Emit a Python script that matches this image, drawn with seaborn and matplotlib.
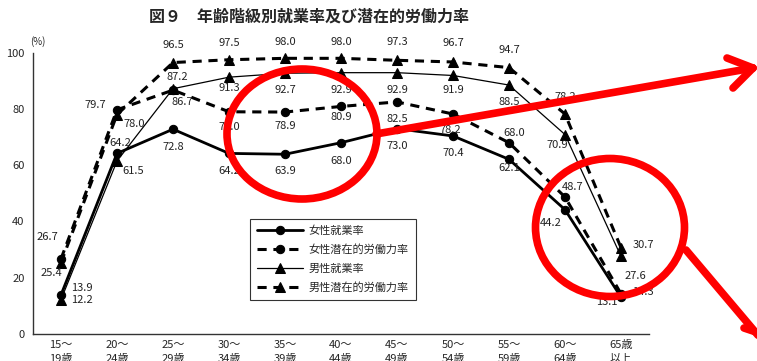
import numpy as np
import pandas as pd
import seaborn as sns
import matplotlib.pyplot as plt
from matplotlib.patches import Ellipse
from matplotlib.lines import Line2D

# ---- data ----
age_groups = ["15～\n19歳", "20～\n24歳", "25～\n29歳", "30～\n34歳", "35～\n39歳",
              "40～\n44歳", "45～\n49歳", "50～\n54歳", "55～\n59歳", "60～\n64歳",
              "65歳\n以上"]
female_emp = [13.9, 64.2, 72.8, 64.2, 63.9, 68.0, 73.0, 70.4, 62.1, 44.2, 13.1]
female_pot = [26.7, 79.7, 86.7, 79.0, 78.9, 80.9, 82.5, 78.2, 68.0, 48.7, 14.3]
male_emp = [12.2, 61.5, 87.2, 91.3, 92.7, 92.9, 92.9, 91.9, 88.5, 70.9, 27.6]
male_pot = [25.4, 78.0, 96.5, 97.5, 98.0, 98.0, 97.3, 96.7, 94.7, 78.2, 30.7]
series_names = ["女性就業率", "女性潜在的労働力率", "男性就業率", "男性潜在的労働力率"]
title = "図９　年齢階級別就業率及び潜在的労働力率"

# label offsets in pixels (dx, dy downwards)
off_female_emp = [(21, -7), (3, -10), (0, 18), (0, 18), (0, 17), (0, 18),
                  (0, 17), (0, 17), (0, 9), (-14, 13), (-14, 5)]
off_female_pot = [(-14, -22), (-22, -5), (9, 12), (0, 15), (0, 14), (0, 11),
                  (0, 17), (-3, 16), (5, -10), (8, -10), (22, -2)]
off_male_emp = [(21, 0), (16, 10), (4, -12), (0, 11), (0, 17), (0, 17),
                (0, 17), (0, 15), (0, 17), (-8, 10), (14, 20)]
off_male_pot = [(-10, 10), (17, 9), (0, -18), (0, -17), (0, -16), (0, -16),
                (0, -18), (0, -19), (0, -18), (0, -17), (22, -3)]

rows = []
for name, vals in zip(series_names, [female_emp, female_pot, male_emp, male_pot]):
    for i, v in enumerate(vals):
        rows.append([name, i, v])
df = pd.DataFrame(rows, columns=["series", "pos", "value"])

sns.set_style("white")
plt.rcParams['font.family'] = ['Noto Sans CJK JP', 'DejaVu Sans']

W, H = 757, 361
fig = plt.figure(figsize=(W / 100, H / 100), dpi=100)
ax = fig.add_axes([33 / W, 1 - 334 / H, 616 / W, 281.3 / H])

dash = (0, (3, 2.2))
styles = {
    "女性就業率": dict(marker="o", linestyle="-", linewidth=2.0, markersize=6),
    "女性潜在的労働力率": dict(marker="o", linestyle=dash, linewidth=2.2, markersize=6),
    "男性就業率": dict(marker="^", linestyle="-", linewidth=0.9, markersize=6.5),
    "男性潜在的労働力率": dict(marker="^", linestyle=dash, linewidth=2.2, markersize=6.5),
}
for name in series_names:
    sns.lineplot(data=df[df["series"] == name], x="pos", y="value", color="black",
                 markeredgecolor="black", label=name, ax=ax, **styles[name])

for vals, offs in [(female_emp, off_female_emp), (female_pot, off_female_pot),
                   (male_emp, off_male_emp), (male_pot, off_male_pot)]:
    for i, (v, (dx, dy)) in enumerate(zip(vals, offs)):
        ax.annotate(f"{v:.1f}", (i, v), xytext=(dx, -dy), textcoords="offset pixels",
                    ha="center", va="center", fontsize=8, color="#222222")

ax.set_xlim(-0.5, len(age_groups) - 0.5)
ax.set_ylim(0, 100)
ax.set_yticks(np.arange(0, 101, 20))
ax.set_xticks(range(len(age_groups)))
ax.set_xticklabels(age_groups, fontsize=8, linespacing=1.5)
ax.set_xticks(np.arange(0.5, len(age_groups), 1), minor=True)
ax.tick_params(axis="x", which="major", length=0, pad=4)
ax.tick_params(axis="x", which="minor", direction="in", length=4, width=0.8)
ax.tick_params(axis="y", direction="in", length=4, width=0.8, labelsize=8, pad=6)
ax.set_xlabel("")
ax.set_ylabel("")
for s in ["top", "right"]:
    ax.spines[s].set_visible(False)
for s in ["left", "bottom"]:
    ax.spines[s].set_color("#333333")
    ax.spines[s].set_linewidth(1.0)

leg = ax.legend(loc="upper left", bbox_to_anchor=(250 / W, 1 - 219 / H),
                bbox_transform=fig.transFigure, borderaxespad=0, fontsize=8,
                handlelength=4.2, labelspacing=0.75, frameon=True, fancybox=False,
                borderpad=0.6, handletextpad=0.5)
leg.get_frame().set_edgecolor("black")
leg.get_frame().set_linewidth(0.8)

fig.text(309 / W, 1 - 17 / H, title, ha="center", va="center", fontsize=11.5,
         fontweight="bold")
fig.text(38 / W, 1 - 42 / H, "(%)", ha="center", va="center", fontsize=7)


# red hand-drawn highlights
def fx(x):
    return x / W


def fy(y):
    return 1 - y / H


red = "#ff0000"
fig.add_artist(Ellipse((fx(302), fy(134)), 150 / W, 130 / H, transform=fig.transFigure,
                       fill=False, ec=red, lw=5.5, zorder=20))
fig.add_artist(Ellipse((fx(610), fy(227.5)), 149 / W, 138 / H, transform=fig.transFigure,
                       fill=False, ec=red, lw=5.5, zorder=20))
for (x1, y1), (x2, y2) in [((376, 134), (753, 68)), ((727, 58), (753, 68)),
                           ((733, 88), (753, 68)), ((686, 250), (762, 340)),
                           ((744, 328), (762, 334))]:
    fig.add_artist(Line2D([fx(x1), fx(x2)], [fy(y1), fy(y2)], transform=fig.transFigure,
                          color=red, lw=5.5, solid_capstyle="round", zorder=21))

plt.savefig("out.png", dpi=100)
